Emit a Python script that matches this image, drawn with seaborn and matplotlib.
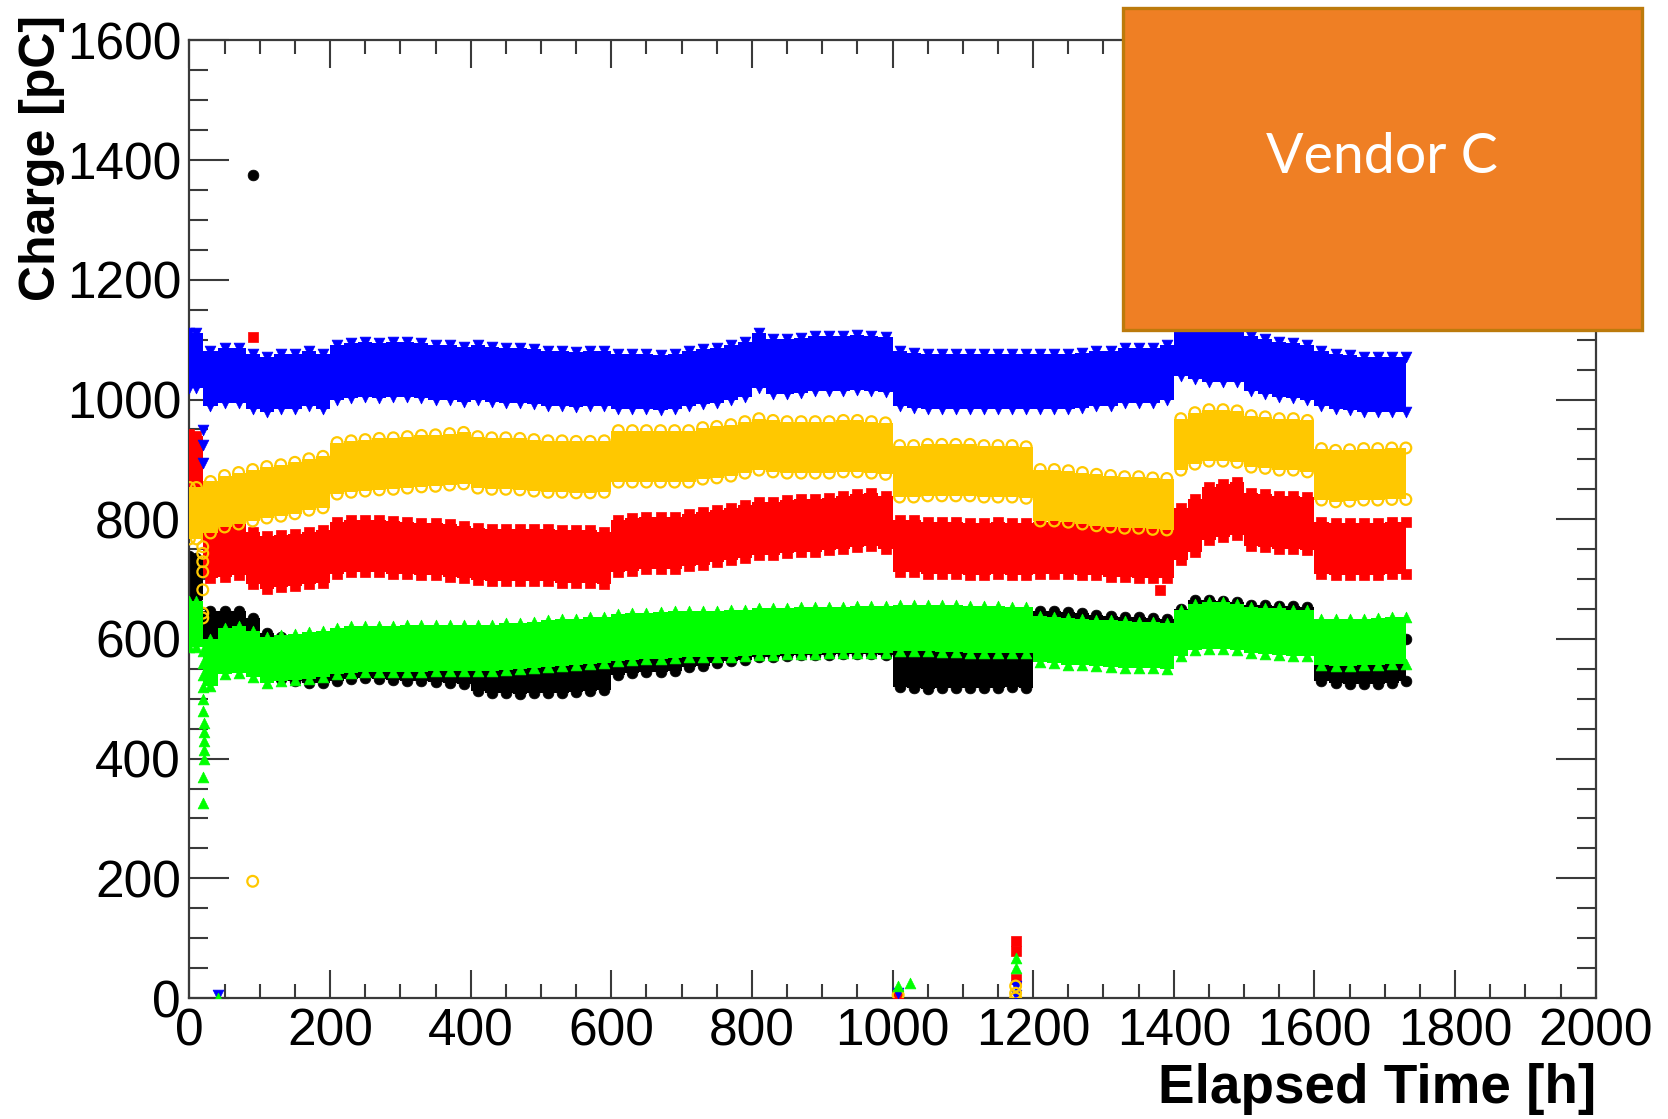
import numpy as np
import pandas as pd
import matplotlib
matplotlib.use("Agg")
import matplotlib.pyplot as plt
import matplotlib.patches as patches
import seaborn as sns

# Sampling grid: start of run, then every 20 h; band centres
hours = [0] + list(range(10, 1740, 20))

blue_c = [1065, 1065, 1035, 1040, 1040, 1030, 1025, 1030, 1030, 1035, 1030,
          1045, 1048, 1050, 1048, 1050, 1050, 1048, 1045, 1045, 1042,
          1045, 1042, 1040, 1040, 1038, 1035, 1035, 1033, 1035, 1035,
          1030, 1030, 1030, 1028, 1030, 1035, 1038, 1040, 1045, 1050,
          1065, 1055, 1055, 1057, 1060, 1060, 1060, 1062, 1060, 1058,
          1035, 1032, 1030, 1030, 1030, 1030, 1030, 1030, 1030, 1030,
          1030, 1030, 1030, 1032, 1035, 1035, 1040, 1040, 1040, 1045,
          1085, 1080, 1075, 1075, 1075, 1060, 1055, 1050, 1048, 1045,
          1035, 1030, 1028, 1025, 1025, 1025, 1025]
yellow_c = [810, 810, 820, 830, 835, 840, 845, 848, 852, 858, 862,
            885, 888, 890, 892, 893, 895, 897, 898, 900, 902,
            895, 893, 893, 892, 890, 888, 888, 887, 887, 888,
            905, 905, 905, 905, 905, 905, 910, 912, 915, 920,
            925, 922, 920, 920, 920, 920, 922, 922, 920, 918,
            880, 880, 882, 882, 882, 882, 880, 880, 880, 878,
            840, 840, 838, 835, 832, 830, 828, 828, 826, 825,
            925, 935, 940, 940, 938, 930, 928, 925, 925, 922,
            875, 872, 873, 875, 875, 876, 876]
red_c = [898, 895, 745, 748, 750, 735, 728, 730, 732, 735, 738,
         752, 755, 755, 755, 753, 752, 750, 750, 748, 745,
         742, 740, 740, 740, 740, 740, 738, 738, 738, 735,
         755, 758, 760, 760, 760, 765, 768, 772, 775, 780,
         785, 785, 788, 790, 790, 792, 795, 798, 800, 795,
         755, 755, 752, 752, 752, 750, 750, 752, 750, 750,
         752, 752, 752, 750, 750, 748, 748, 746, 745, 745,
         775, 790, 810, 815, 818, 800, 798, 795, 795, 793,
         752, 750, 750, 750, 750, 752, 752]
black_c = [703, 700, 612, 612, 612, 600, 575, 568, 565, 562, 562,
           565, 568, 570, 568, 566, 565, 565, 563, 562, 560,
           548, 545, 545, 543, 545, 545, 545, 547, 548, 550,
           575, 578, 580, 580, 582, 588, 590, 595, 598, 600,
           605, 605, 607, 608, 608, 608, 610, 610, 610, 608,
           555, 553, 552, 553, 553, 553, 553, 553, 555, 553,
           612, 612, 610, 608, 605, 603, 602, 602, 600, 598,
           615, 630, 630, 628, 626, 622, 622, 620, 620, 618,
           565, 562, 560, 560, 560, 562, 565]
green_c = [625, 625, 560, 580, 582, 575, 565, 568, 570, 572, 575,
           580, 582, 583, 583, 583, 584, 584, 585, 585, 585,
           585, 585, 587, 588, 590, 592, 594, 595, 597, 598,
           602, 604, 605, 606, 607, 608, 608, 608, 609, 610,
           612, 612, 613, 614, 614, 615, 615, 616, 616, 616,
           618, 618, 618, 617, 617, 616, 616, 616, 615, 615,
           600, 598, 596, 595, 593, 592, 591, 590, 590, 588,
           610, 620, 622, 622, 620, 615, 613, 612, 610, 610,
           595, 594, 594, 595, 596, 597, 597]

# band half-widths (spread of the points around the centre)
blue_hw, yellow_hw, red_hw, black_hw, green_hw = 46, 43, 44, 35, 39

# isolated points
black_out_t = [90]
black_out_q = [1375]
red_out_t = [90, 1380, 1175, 1175, 1175, 1008]
red_out_q = [1105, 682, 95, 78, 32, 5]
yellow_out_t = [90, 19, 19, 19, 19, 19, 19, 19, 1008, 1175, 1175, 1175]
yellow_out_q = [195, 754, 743, 729, 712, 682, 643, 635, 5, 20, 8, 0]
blue_out_t = [19, 19, 19, 90, 40, 1008, 1175, 1175]
blue_out_q = [949, 924, 894, 545, 5, 8, 20, 5]
green_out_t = [20, 20, 20, 20, 20, 20, 21, 21, 21, 21, 21, 20, 20, 40, 1008,
               1025, 1175, 1175]
green_out_q = [580, 560, 540, 520, 500, 480, 460, 445, 430, 415, 400, 370, 325,
               0, 20, 25, 66, 50]

series = [
    # name, centres, half width, colour, marker, filled, outliers, zorder
    ("black", black_c, black_hw, "#000000", "o", True, black_out_t, black_out_q, 2),
    ("red", red_c, red_hw, "#FF0000", "s", True, red_out_t, red_out_q, 3),
    ("blue", blue_c, blue_hw, "#0000FF", "v", True, blue_out_t, blue_out_q, 4),
    ("yellow", yellow_c, yellow_hw, "#FFC800", "o", False, yellow_out_t, yellow_out_q, 5),
    ("green", green_c, green_hw, "#00FF00", "^", True, green_out_t, green_out_q, 6),
]

sns.set_theme(style="ticks")
plt.rcParams["font.family"] = ["Liberation Sans", "DejaVu Sans"]
plt.rcParams["text.color"] = "black"

W, H = 1668, 1119
fig = plt.figure(figsize=(W / 100, H / 100), dpi=100)
ax = fig.add_axes([189.4 / W, 1 - 998 / H, 1406.3 / W, 957.6 / H])

for name, cen, hw, col, mk, filled, ot, oq, z in series:
    cen = np.array(cen, dtype=float)
    ax.fill_between(hours, cen - hw, cen + hw, step="mid", color=col,
                    linewidth=0, zorder=z)
    edge = pd.DataFrame({"t": hours + hours,
                         "q": list(cen + hw) + list(cen - hw)})
    pts = pd.DataFrame({"t": ot, "q": oq})
    for df in (edge, pts):
        if filled:
            sns.scatterplot(data=df, x="t", y="q", marker=mk, color=col, s=60,
                            edgecolor=col, linewidth=0.5, ax=ax, zorder=z,
                            legend=False)
        else:
            sns.scatterplot(data=df, x="t", y="q", marker=mk, s=60,
                            facecolors="none", edgecolor=col, linewidth=1.6,
                            ax=ax, zorder=z, legend=False)

ax.set_xlim(0, 2000)
ax.set_ylim(0, 1600)
ax.set_xticks(range(0, 2001, 200))
ax.set_yticks(range(0, 1601, 200))
ax.set_xticks(range(0, 2001, 50), minor=True)
ax.set_yticks(range(0, 1601, 50), minor=True)
ax.set_xlabel("")
ax.set_ylabel("")

axis_col = "#3a3a3a"
for sp in ax.spines.values():
    sp.set_visible(True)
    sp.set_color(axis_col)
    sp.set_linewidth(1.6)
ax.tick_params(axis="x", which="major", direction="in", length=20, width=1.5,
               color=axis_col, top=True, bottom=True, labelsize=37, pad=7,
               labelcolor="black")
ax.tick_params(axis="x", which="minor", direction="in", length=10, width=1.5,
               color=axis_col, top=True, bottom=True)
ax.tick_params(axis="y", which="major", direction="in", length=29, width=1.5,
               color=axis_col, left=True, right=True, labelsize=37, pad=6,
               labelcolor="black")
ax.tick_params(axis="y", which="minor", direction="in", length=14, width=1.5,
               color=axis_col, left=True, right=True)

# axis titles, ROOT style (aligned to the axis ends)
fig.text(1596 / W, 1 - 1089 / H, "Elapsed Time [h]", ha="right", va="center",
         fontsize=39.5, fontweight="bold", color="black")
fig.text(42 / W, 1 - 15 / H, "Charge [pC]", rotation=90, ha="center",
         va="top", fontsize=36, fontweight="bold", color="black")

# "Vendor C" box pasted over the top right corner
box = patches.Rectangle((1122.5 / W, 1 - 330 / H), (1642 - 1122.5) / W,
                        (330 - 8) / H, transform=fig.transFigure,
                        facecolor="#EF7F24", edgecolor="#BC7A0C",
                        linewidth=2.4, zorder=10)
fig.add_artist(box)
fig.text(1381.7 / W, 1 - 158 / H, "Vendor C", ha="center", va="center",
         color="white", fontsize=40, family=["Lato", "DejaVu Sans"],
         fontweight="normal", zorder=11)

fig.savefig("out.png", dpi=100)
